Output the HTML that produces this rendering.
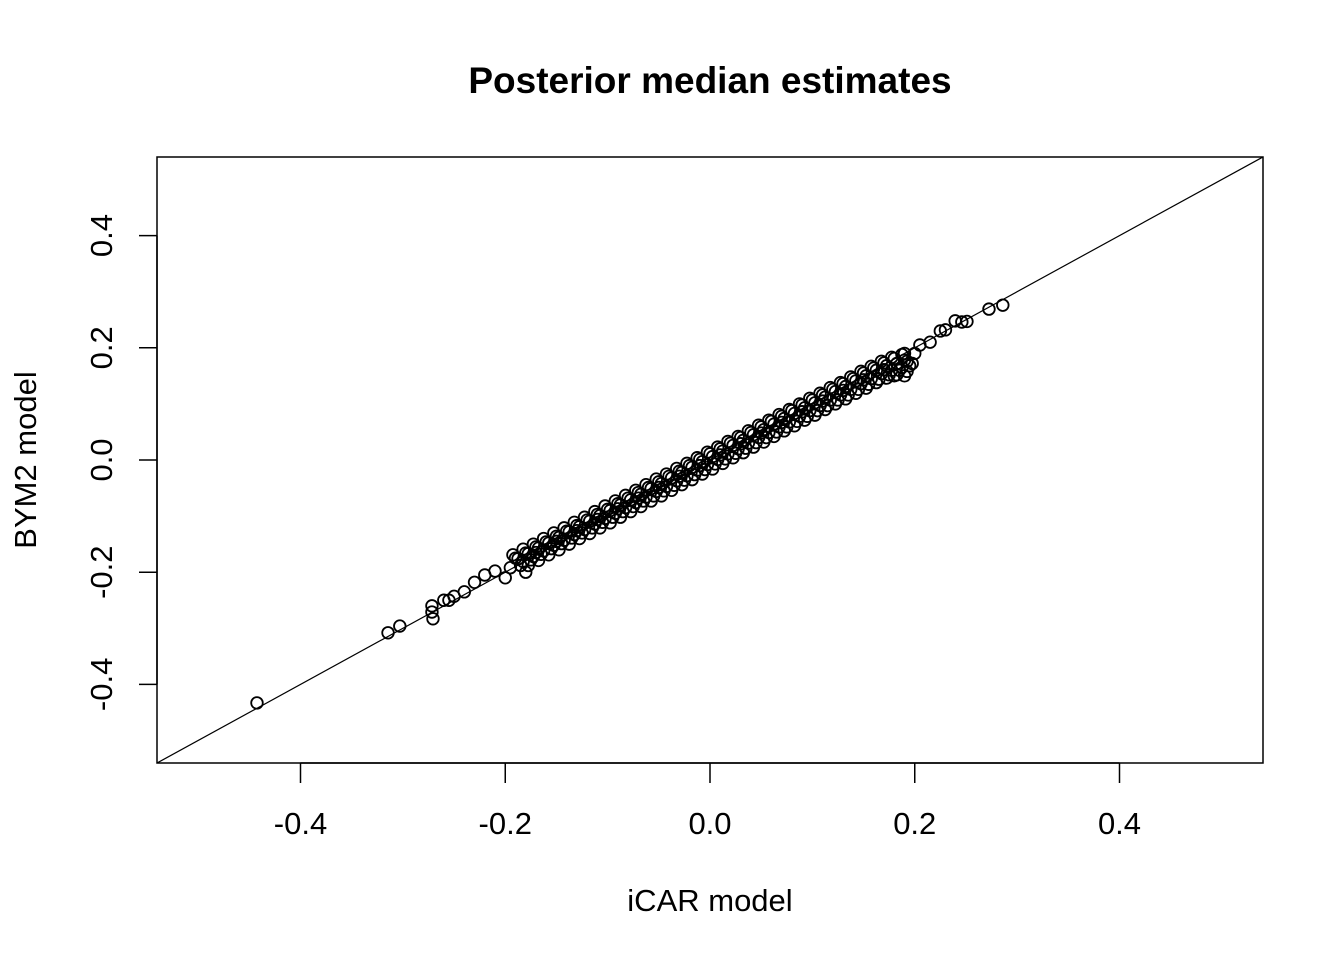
<!DOCTYPE html>
<html><head><meta charset="utf-8"><style>
html,body{margin:0;padding:0;background:#fff;}
svg text{font-family:"Liberation Sans",Arial,sans-serif;fill:#000;}
</style></head><body>
<svg id="chart" width="1344" height="960" xmlns="http://www.w3.org/2000/svg">
<rect width="1344" height="960" fill="#fff"/>
<text x="710" y="93" font-size="37" font-weight="bold" text-anchor="middle">Posterior median estimates</text>
<g id="marks"></g>
<rect x="157" y="157" width="1106" height="606" fill="none" stroke="#000" stroke-width="1.5"/>
<g id="xaxis"></g>
<g id="yaxis"></g>
<text x="710" y="911" font-size="31" text-anchor="middle">iCAR model</text>
<text x="0" y="0" font-size="31" text-anchor="middle" transform="translate(36,460) rotate(-90)">BYM2 model</text>
</svg>
<script>
const xTicks=[-0.4,-0.2,0.0,0.2,0.4];
const yTicks=[-0.4,-0.2,0.0,0.2,0.4];
const xTickLabels=["-0.4","-0.2","0.0","0.2","0.4"];
const yTickLabels=["-0.4","-0.2","0.0","0.2","0.4"];
const xVals=[-0.19,-0.18,-0.17,-0.16,-0.15,-0.14,-0.13,-0.12,-0.11,-0.10,-0.09,-0.08,-0.07,-0.06,-0.05,-0.04,-0.03,-0.02,-0.01,0,0.01,0.02,0.03,0.04,0.05,0.06,0.07,0.08,0.09,0.10,0.11,0.12,0.13,0.14,0.15,0.16,0.17,0.18,0.19,
-0.185,-0.175,-0.165,-0.155,-0.145,-0.135,-0.125,-0.115,-0.105,-0.095,-0.085,-0.075,-0.065,-0.055,-0.045,-0.035,-0.025,-0.015,-0.005,0.005,0.015,0.025,0.035,0.045,0.055,0.065,0.075,0.085,0.095,0.105,0.115,0.125,0.135,0.145,0.155,0.165,0.175,0.185,0.195,
-0.195,-0.17,-0.15,-0.13,-0.11,-0.09,-0.07,-0.05,-0.03,-0.01,0.01,0.03,0.05,0.07,0.09,0.11,0.13,0.15,0.17,0.19,0.2,
-0.1875,-0.1775,-0.1675,-0.1575,-0.1475,-0.1375,-0.1275,-0.1175,-0.1075,-0.0975,-0.0875,-0.0775,-0.0675,-0.0575,-0.0475,-0.0375,-0.0275,-0.0175,-0.0075,0.0025,0.0125,0.0225,0.0325,0.0425,0.0525,0.0625,0.0725,0.0825,0.0925,0.1025,0.1125,0.1225,0.1325,0.1425,0.1525,0.1625,0.1725,0.1825,0.1925,
-0.1825,-0.1725,-0.1625,-0.1525,-0.1425,-0.1325,-0.1225,-0.1125,-0.1025,-0.0925,-0.0825,-0.0725,-0.0625,-0.0525,-0.0425,-0.0325,-0.0225,-0.0125,-0.0025,0.0075,0.0175,0.0275,0.0375,0.0475,0.0575,0.0675,0.0775,0.0875,0.0975,0.1075,0.1175,0.1275,0.1375,0.1475,0.1575,0.1675,0.1775,0.1875,0.1975,
-0.1925,-0.1825,-0.1725,-0.1625,-0.1525,-0.1425,-0.1325,-0.1225,-0.1125,-0.1025,-0.0925,-0.0825,-0.0725,-0.0625,-0.0525,-0.0425,-0.0325,-0.0225,-0.0125,-0.0025,0.0075,0.0175,0.0275,0.0375,0.0475,0.0575,0.0675,0.0775,0.0875,0.0975,0.1075,0.1175,0.1275,0.1375,0.1475,0.1575,0.1675,0.1775,0.1875,
-0.1775,-0.1675,-0.1575,-0.1475,-0.1375,-0.1275,-0.1175,-0.1075,-0.0975,-0.0875,-0.0775,-0.0675,-0.0575,-0.0475,-0.0375,-0.0275,-0.0175,-0.0075,0.0025,0.0125,0.0225,0.0325,0.0425,0.0525,0.0625,0.0725,0.0825,0.0925,0.1025,0.1125,0.1225,0.1325,0.1425,0.1525,0.1625,0.1725,0.1825,0.1925,
-0.22,-0.23,-0.24,-0.25,-0.255,-0.21,0.205,0.215,0.225,0.23,0.2395,0.246,0.251,0.2725,0.286,-0.4425,-0.3145,-0.303,-0.2716,-0.2716,-0.2706,-0.26,-0.2,-0.18,0.19,0.18];
const yVals=[-0.175,-0.166,-0.155,-0.146,-0.136,-0.127,-0.117,-0.107,-0.097,-0.088,-0.078,-0.068,-0.058,-0.049,-0.039,-0.029,-0.020,-0.010,0.001,0.011,0.020,0.030,0.040,0.049,0.059,0.069,0.078,0.088,0.098,0.107,0.116,0.126,0.136,0.145,0.155,0.164,0.173,0.181,0.190,
-0.188,-0.178,-0.168,-0.158,-0.149,-0.139,-0.130,-0.121,-0.111,-0.102,-0.092,-0.083,-0.073,-0.064,-0.055,-0.045,-0.036,-0.026,-0.017,-0.007,0.002,0.012,0.021,0.031,0.040,0.050,0.059,0.069,0.078,0.088,0.097,0.107,0.116,0.126,0.135,0.144,0.152,0.160,0.168,
-0.192,-0.165,-0.145,-0.126,-0.106,-0.087,-0.068,-0.049,-0.029,-0.010,0.009,0.029,0.048,0.067,0.086,0.105,0.124,0.143,0.161,0.178,0.19,
-0.176,-0.167,-0.157,-0.148,-0.138,-0.128,-0.119,-0.109,-0.099,-0.090,-0.080,-0.071,-0.061,-0.051,-0.042,-0.032,-0.022,-0.013,-0.003,0.006,0.016,0.026,0.035,0.045,0.054,0.064,0.074,0.083,0.093,0.102,0.112,0.122,0.131,0.141,0.150,0.160,0.168,0.172,0.176,
-0.181,-0.172,-0.162,-0.152,-0.143,-0.133,-0.124,-0.114,-0.104,-0.095,-0.085,-0.076,-0.066,-0.056,-0.047,-0.037,-0.028,-0.018,-0.008,0.001,0.011,0.020,0.030,0.040,0.049,0.059,0.068,0.078,0.088,0.097,0.107,0.116,0.126,0.136,0.145,0.154,0.160,0.165,0.172,
-0.169,-0.159,-0.150,-0.140,-0.130,-0.121,-0.111,-0.102,-0.092,-0.082,-0.073,-0.063,-0.054,-0.044,-0.034,-0.025,-0.015,-0.006,0.004,0.014,0.023,0.033,0.042,0.052,0.062,0.071,0.081,0.090,0.100,0.110,0.119,0.129,0.138,0.148,0.158,0.167,0.176,0.183,0.188,
-0.188,-0.179,-0.169,-0.160,-0.150,-0.140,-0.131,-0.121,-0.112,-0.102,-0.092,-0.083,-0.073,-0.064,-0.054,-0.044,-0.035,-0.025,-0.016,-0.006,0.004,0.013,0.023,0.032,0.042,0.052,0.061,0.071,0.080,0.090,0.100,0.109,0.119,0.128,0.138,0.146,0.152,0.158,
-0.205,-0.218,-0.235,-0.243,-0.25,-0.198,0.205,0.21,0.23,0.232,0.248,0.246,0.247,0.269,0.276,-0.433,-0.308,-0.296,-0.26,-0.271,-0.283,-0.25,-0.21,-0.2,0.15,0.15];
const NS="http://www.w3.org/2000/svg";
function sx(v){return 710+v*1023.75;}
function sy(v){return 460-v*561;}
function mk(tag,attrs,parent){const e=document.createElementNS(NS,tag);for(const k in attrs)e.setAttribute(k,attrs[k]);parent.appendChild(e);return e;}
const marks=document.getElementById('marks');
const line=mk('line',{x1:sx(-0.54),y1:sy(-0.54),x2:sx(0.54),y2:sy(0.54),stroke:'#000','stroke-width':1.2},marks);


for(let i=0;i<xVals.length;i++){
  const c=mk('circle',{cx:sx(xVals[i]),cy:sy(yVals[i]),r:5.8,fill:'none',stroke:'#000','stroke-width':1.8},marks);
  
  
}
const xa=document.getElementById('xaxis');
const xl=mk('line',{x1:sx(xTicks[0]),y1:763,x2:sx(xTicks[xTicks.length-1]),y2:763,stroke:'#000','stroke-width':1.5},xa);


xTicks.forEach((t,i)=>{
  const tk=mk('line',{x1:sx(t),y1:763,x2:sx(t),y2:783,stroke:'#000','stroke-width':1.5},xa);
  
  
  const tx=mk('text',{x:sx(t),y:834,'font-size':31,'text-anchor':'middle'},xa);
  tx.textContent=xTickLabels[i];
  
  
});
const ya=document.getElementById('yaxis');
const yl=mk('line',{x1:157,y1:sy(yTicks[0]),x2:157,y2:sy(yTicks[yTicks.length-1]),stroke:'#000','stroke-width':1.5},ya);


yTicks.forEach((t,i)=>{
  const tk=mk('line',{x1:139,y1:sy(t),x2:157,y2:sy(t),stroke:'#000','stroke-width':1.5},ya);
  
  
  const tx=mk('text',{x:0,y:0,'font-size':31,'text-anchor':'middle',transform:`translate(112,${sy(t)}) rotate(-90)`},ya);
  tx.textContent=yTickLabels[i];
  
  
});
</script>
</body></html>
